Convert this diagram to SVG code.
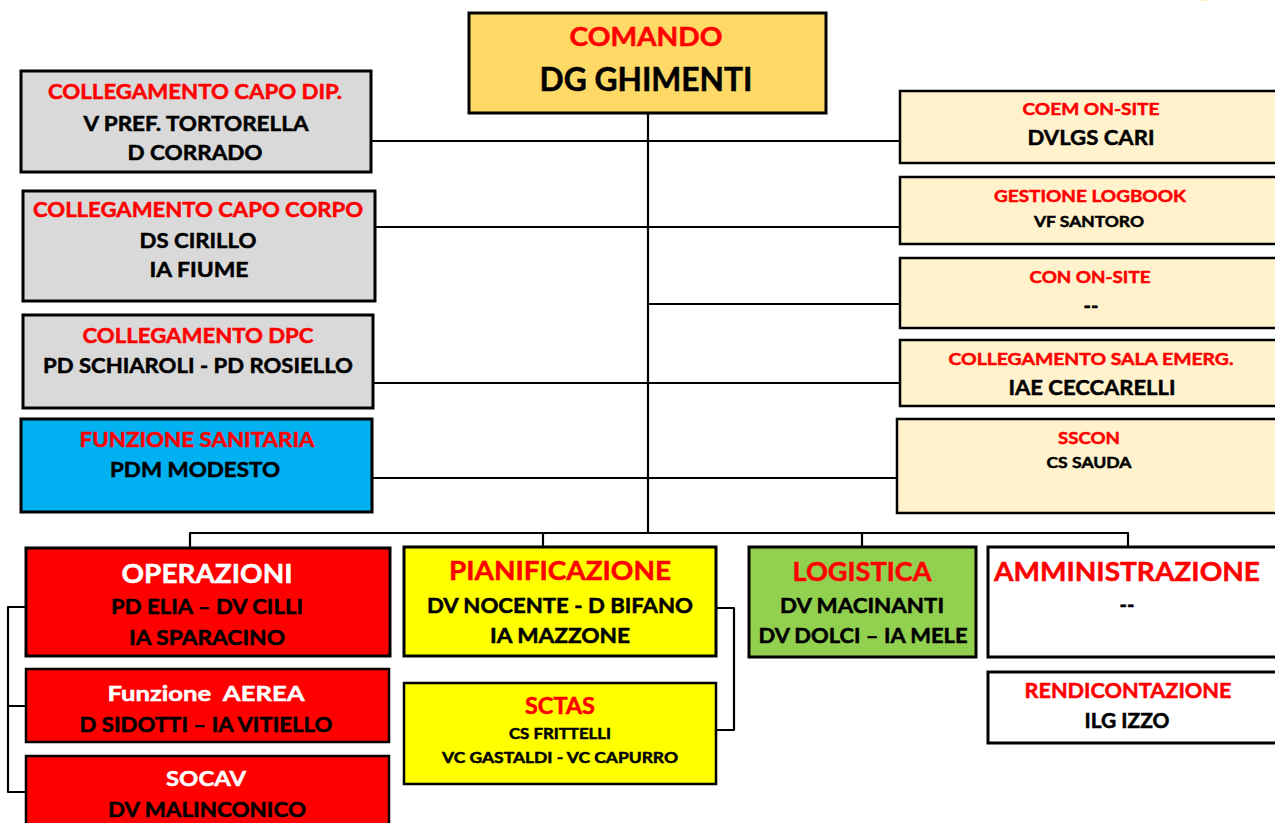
<svg xmlns="http://www.w3.org/2000/svg" width="1275" height="823" viewBox="0 0 1275 823">
<style>
text{font-family:Lato,"Open Sans","Liberation Sans",sans-serif;font-weight:bold;text-anchor:middle;stroke-width:0.5;white-space:pre}
.r{fill:#ff0000;stroke:#ff0000}.k{fill:#000;stroke:#000}.w{fill:#fff;stroke:#fff}
.box{stroke:#000;stroke-width:3}
.thin{stroke:#000;stroke-width:2.5}
.grey{fill:#d9d9d9}.cream{fill:#fff2cc}
.conn path{fill:none;stroke:#000;stroke-width:2.2;stroke-linejoin:round}
</style>
<rect width="1275" height="823" fill="#fff"/>
<ellipse cx="1203" cy="-7" rx="11" ry="8" fill="#ffe680" opacity="0.6"/>
<g class="conn" id="connectors">
<path d="M648 114V533"/>
<path d="M372 141H899"/>
<path d="M376 227H900"/>
<path d="M648 304H900"/>
<path d="M374 383H899"/>
<path d="M373 478H897"/>
<path d="M190 548V533H1128V546"/>
<path d="M543 533V546"/>
<path d="M862 533V546"/>
<path d="M25 607H8V792H25M8 706H25"/>
<path d="M717 608H734V730H717"/>
</g>
<g id="comando">
<rect class="box" x="469" y="13" width="357" height="100" fill="#fed966"/>
<text class="r" x="646" y="46" font-size="26" textLength="153" lengthAdjust="spacingAndGlyphs">COMANDO</text>
<text class="k" x="646" y="91" font-size="32" textLength="213" lengthAdjust="spacingAndGlyphs">DG GHIMENTI</text>
</g>
<g id="capo-dip">
<rect class="box grey" x="21" y="71" width="350" height="101"/>
<text class="r" x="195" y="99" font-size="20" textLength="294" lengthAdjust="spacingAndGlyphs">COLLEGAMENTO CAPO DIP.</text>
<text class="k" x="196" y="131" font-size="20" textLength="225" lengthAdjust="spacingAndGlyphs">V PREF. TORTORELLA</text>
<text class="k" x="195" y="160" font-size="20" textLength="135" lengthAdjust="spacingAndGlyphs">D CORRADO</text>
</g>
<g id="capo-corpo">
<rect class="box grey" x="23" y="191" width="352" height="110"/>
<text class="r" x="198" y="217" font-size="20" textLength="330" lengthAdjust="spacingAndGlyphs">COLLEGAMENTO CAPO CORPO</text>
<text class="k" x="198" y="248" font-size="20" textLength="117" lengthAdjust="spacingAndGlyphs">DS CIRILLO</text>
<text class="k" x="199" y="277" font-size="20" textLength="99" lengthAdjust="spacingAndGlyphs">IA FIUME</text>
</g>
<g id="dpc">
<rect class="box grey" x="23" y="315" width="350" height="93"/>
<text class="r" x="198" y="343" font-size="20" textLength="231" lengthAdjust="spacingAndGlyphs">COLLEGAMENTO DPC</text>
<text class="k" x="198" y="373" font-size="20" textLength="310" lengthAdjust="spacingAndGlyphs">PD SCHIAROLI - PD ROSIELLO</text>
</g>
<g id="sanitaria">
<rect class="box" x="21" y="419" width="351" height="93" fill="#00b0f0"/>
<text class="r" x="197" y="447" font-size="20" textLength="235" lengthAdjust="spacingAndGlyphs">FUNZIONE SANITARIA</text>
<text class="k" x="195" y="477" font-size="20" textLength="170" lengthAdjust="spacingAndGlyphs">PDM MODESTO</text>
</g>
<g id="coem">
<rect class="thin cream" x="900" y="91" width="390" height="72"/>
<text class="r" x="1091" y="115" font-size="17" textLength="137" lengthAdjust="spacingAndGlyphs">COEM ON-SITE</text>
<text class="k" x="1091" y="145" font-size="21" textLength="127" lengthAdjust="spacingAndGlyphs">DVLGS CARI</text>
</g>
<g id="logbook">
<rect class="thin cream" x="900" y="177" width="390" height="67"/>
<text class="r" x="1090" y="202" font-size="17" textLength="192" lengthAdjust="spacingAndGlyphs">GESTIONE LOGBOOK</text>
<text class="k" x="1089" y="227" font-size="16" textLength="110" lengthAdjust="spacingAndGlyphs">VF SANTORO</text>
</g>
<g id="con">
<rect class="thin cream" x="900" y="258" width="390" height="70"/>
<text class="r" x="1090" y="283" font-size="17" textLength="121" lengthAdjust="spacingAndGlyphs">CON ON-SITE</text>
<text class="k" x="1091" y="313" font-size="20">--</text>
</g>
<g id="sala">
<rect class="thin cream" x="900" y="340" width="390" height="66"/>
<text class="r" x="1091" y="365" font-size="17" textLength="285" lengthAdjust="spacingAndGlyphs">COLLEGAMENTO SALA EMERG.</text>
<text class="k" x="1092" y="395" font-size="21" textLength="167" lengthAdjust="spacingAndGlyphs">IAE CECCARELLI</text>
</g>
<g id="sscon">
<rect class="thin cream" x="897" y="419" width="393" height="94"/>
<text class="r" x="1089" y="444" font-size="17" textLength="62" lengthAdjust="spacingAndGlyphs">SSCON</text>
<text class="k" x="1089" y="468" font-size="16" textLength="85" lengthAdjust="spacingAndGlyphs">CS SAUDA</text>
</g>
<g id="operazioni">
<rect class="box" x="26" y="548" width="364" height="108" fill="#ff0000"/>
<text class="w" x="207" y="583" font-size="26" textLength="171" lengthAdjust="spacingAndGlyphs">OPERAZIONI</text>
<text class="k" x="207" y="614" font-size="20" textLength="192" lengthAdjust="spacingAndGlyphs">PD ELIA – DV CILLI</text>
<text class="k" x="207" y="645" font-size="20" textLength="156" lengthAdjust="spacingAndGlyphs">IA SPARACINO</text>
</g>
<g id="aerea">
<rect class="thin" x="26" y="669" width="363" height="73" fill="#ff0000"/>
<text class="w" x="206" y="701" font-size="21" textLength="197" lengthAdjust="spacingAndGlyphs" xml:space="preserve">Funzione  AEREA</text>
<text class="k" x="206" y="732" font-size="20" textLength="253" lengthAdjust="spacingAndGlyphs">D SIDOTTI – IA VITIELLO</text>
</g>
<g id="socav">
<rect class="thin" x="26" y="756" width="363" height="80" fill="#ff0000"/>
<text class="w" x="206" y="786" font-size="21" textLength="80" lengthAdjust="spacingAndGlyphs">SOCAV</text>
<text class="k" x="207" y="817" font-size="20" textLength="198" lengthAdjust="spacingAndGlyphs">DV MALINCONICO</text>
</g>
<g id="pianificazione">
<rect class="box" x="404" y="547" width="312" height="109" fill="#ffff00"/>
<text class="r" x="560" y="580" font-size="26" textLength="222" lengthAdjust="spacingAndGlyphs">PIANIFICAZIONE</text>
<text class="k" x="560" y="613" font-size="20" textLength="266" lengthAdjust="spacingAndGlyphs">DV NOCENTE - D BIFANO</text>
<text class="k" x="560" y="643" font-size="20" textLength="140" lengthAdjust="spacingAndGlyphs">IA MAZZONE</text>
</g>
<g id="sctas">
<rect class="thin" x="404" y="683" width="312" height="101" fill="#ffff00"/>
<text class="r" x="560" y="714" font-size="22" textLength="70" lengthAdjust="spacingAndGlyphs">SCTAS</text>
<text class="k" x="560" y="739" font-size="15" textLength="102" lengthAdjust="spacingAndGlyphs">CS FRITTELLI</text>
<text class="k" x="560" y="763" font-size="15" textLength="236" lengthAdjust="spacingAndGlyphs">VC GASTALDI - VC CAPURRO</text>
</g>
<g id="logistica">
<rect class="box" x="749" y="547" width="227" height="110" fill="#92d050"/>
<text class="r" x="862" y="581" font-size="26" textLength="139" lengthAdjust="spacingAndGlyphs">LOGISTICA</text>
<text class="k" x="862" y="613" font-size="20" textLength="164" lengthAdjust="spacingAndGlyphs">DV MACINANTI</text>
<text class="k" x="863" y="643" font-size="20" textLength="209" lengthAdjust="spacingAndGlyphs">DV DOLCI – IA MELE</text>
</g>
<g id="amministrazione">
<rect class="box" x="988" y="547" width="300" height="110" fill="#fff"/>
<text class="r" x="1127" y="581" font-size="26" textLength="266" lengthAdjust="spacingAndGlyphs">AMMINISTRAZIONE</text>
<text class="k" x="1127" y="612" font-size="20">--</text>
</g>
<g id="rendicontazione">
<rect class="box" x="988" y="672" width="300" height="71" fill="#fff"/>
<text class="r" x="1128" y="698" font-size="20" textLength="207" lengthAdjust="spacingAndGlyphs">RENDICONTAZIONE</text>
<text class="k" x="1127" y="728" font-size="20" textLength="85" lengthAdjust="spacingAndGlyphs">ILG IZZO</text>
</g>
</svg>
